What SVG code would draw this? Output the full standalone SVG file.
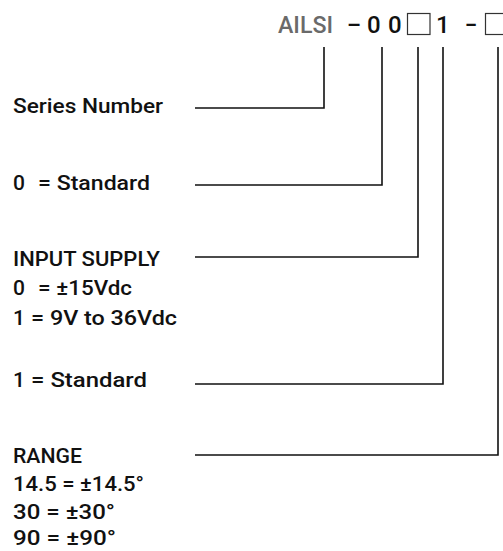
<svg xmlns="http://www.w3.org/2000/svg" width="503" height="551" viewBox="0 0 503 551">
<style>
.t{font-family:Roboto,"Liberation Sans",sans-serif;font-weight:500;font-size:21px;fill:#111}
.h{font-family:Roboto,"Liberation Sans",sans-serif;font-weight:500;font-size:24px;fill:#111}
.g{fill:#6a6a6a}
.c{fill:none;stroke:#111;stroke-width:1.6}
.b{fill:#fff;stroke:#333;stroke-width:1.2}
</style>
<rect width="503" height="551" fill="#fff"/>
<g id="code">
<text class="h"><tspan class="g" x="278" y="33" textLength="55" lengthAdjust="spacingAndGlyphs">AILSI</tspan><tspan x="347" y="33" textLength="14" lengthAdjust="spacingAndGlyphs">–</tspan><tspan x="367" y="33">0</tspan><tspan x="388" y="33">0</tspan><tspan x="436" y="33">1</tspan><tspan x="465" y="33" textLength="12" lengthAdjust="spacingAndGlyphs">–</tspan></text>
<rect class="b" x="407.5" y="13.5" width="22.5" height="21"/>
<rect class="b" x="485.5" y="13.5" width="22.5" height="21"/>
</g>
<g id="series">
<text class="t" x="13" y="113" textLength="150" lengthAdjust="spacingAndGlyphs">Series Number</text>
</g>
<g id="standard0">
<text class="t" y="190"><tspan x="13">0</tspan><tspan x="38" textLength="112" lengthAdjust="spacingAndGlyphs">= Standard</tspan></text>
</g>
<g id="input">
<text class="t" x="13" y="266" textLength="147" lengthAdjust="spacingAndGlyphs">INPUT SUPPLY</text>
<text class="t" y="295"><tspan x="13">0</tspan><tspan x="38" textLength="94" lengthAdjust="spacingAndGlyphs">= ±15Vdc</tspan></text>
<text class="t" y="325"><tspan x="13">1</tspan><tspan x="31" textLength="146" lengthAdjust="spacingAndGlyphs">= 9V to 36Vdc</tspan></text>
</g>
<g id="standard1">
<text class="t" y="387"><tspan x="13">1</tspan><tspan x="31" textLength="116" lengthAdjust="spacingAndGlyphs">= Standard</tspan></text>
</g>
<g id="range">
<text class="t" x="13" y="463" textLength="69" lengthAdjust="spacingAndGlyphs">RANGE</text>
<text class="t" x="13" y="491" textLength="131" lengthAdjust="spacingAndGlyphs">14.5 = ±14.5°</text>
<text class="t" x="13" y="519" textLength="102" lengthAdjust="spacingAndGlyphs">30 = ±30°</text>
<text class="t" x="13" y="545" textLength="103" lengthAdjust="spacingAndGlyphs">90 = ±90°</text>
</g>
<g id="connectors">
<path class="c" d="M195,108H324V47"/>
<path class="c" d="M195,185H382V47"/>
<path class="c" d="M195,257H418V47"/>
<path class="c" d="M195,384H443V47"/>
<path class="c" d="M195,455H498V47"/>
</g>
</svg>
